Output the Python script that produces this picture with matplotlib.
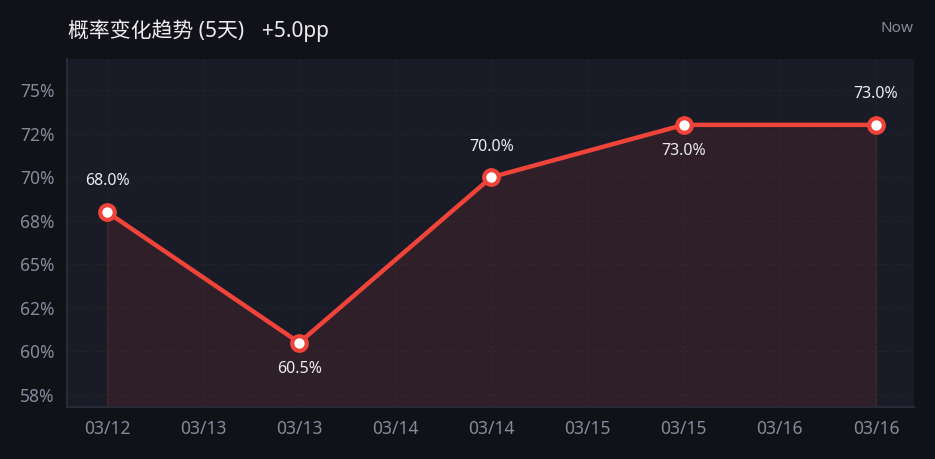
import matplotlib.pyplot as plt
from matplotlib.ticker import FuncFormatter

plt.rcParams['font.family'] = ['Noto Sans', 'Noto Sans CJK SC', 'DejaVu Sans']

# data
days = [0, 1, 2, 3, 4]
probs = [68.0, 60.5, 70.0, 73.0, 73.0]
label_pos = ["above", "below", "above", "below", "above"]
tick_pos = [0, 0.5, 1, 1.5, 2, 2.5, 3, 3.5, 4]
tick_labels = ["03/12", "03/13", "03/13", "03/14", "03/14", "03/15", "03/15", "03/16", "03/16"]
y_ticks = [57.5, 60, 62.5, 65, 67.5, 70, 72.5, 75]

bg = "#111217"
panel = "#191b26"
red = "#f0443a"
grey = "#868a9c"

fig = plt.figure(figsize=(9.35, 4.59), dpi=100, facecolor=bg)
ax = fig.add_axes([67 / 935, 52 / 459, 847 / 935, 348 / 459])
ax.set_facecolor(panel)

ax.set_xlim(-0.208, 4.198)
ax.set_ylim(56.81, 76.78)

ax.fill_between(days, probs, 56.81, color=red, alpha=0.10, linewidth=0)
ax.plot([days[0], days[0]], [56.81, probs[0]], color=red, alpha=0.15, lw=1)
ax.plot([days[-1], days[-1]], [56.81, probs[-1]], color=red, alpha=0.15, lw=1)
ax.plot(days, probs, color=red, lw=3.2, marker="o", markersize=10.5,
        markerfacecolor="white", markeredgecolor=red, markeredgewidth=3, zorder=5)

for x, y, pos in zip(days, probs, label_pos):
    off = 22 if pos == "above" else -19
    ax.annotate(f"{y:.1f}%", (x, y), xytext=(0, off), textcoords="offset points",
                ha="center", va="center", color="#ececf0", fontsize=11.5)

ax.set_xticks(tick_pos)
ax.set_xticklabels(tick_labels)
ax.set_yticks(y_ticks)
ax.yaxis.set_major_formatter(FuncFormatter(lambda v, p: f"{v:.0f}%"))
ax.tick_params(colors=grey, labelsize=12.5, length=0, pad=9)
ax.tick_params(axis="x", pad=9)

ax.grid(True, color="#23252f", lw=0.7, ls=(0, (3, 3)))
ax.set_axisbelow(True)
for s in ["top", "right"]:
    ax.spines[s].set_visible(False)
for s in ["left", "bottom"]:
    ax.spines[s].set_color("#282a37")
    ax.spines[s].set_linewidth(1.5)

fig.text(68 / 935, 1 - 32 / 459, "概率变化趋势 (5天)", color="#ececf0", fontsize=15, va="center")
fig.text(262 / 935, 1 - 32 / 459, "+5.0pp", color="#ececf0", fontsize=15, va="center")
fig.text(913 / 935, 1 - 28 / 459, "Now", color=grey, fontsize=11, va="center", ha="right")

fig.savefig("out.png", dpi=100, facecolor=bg)
